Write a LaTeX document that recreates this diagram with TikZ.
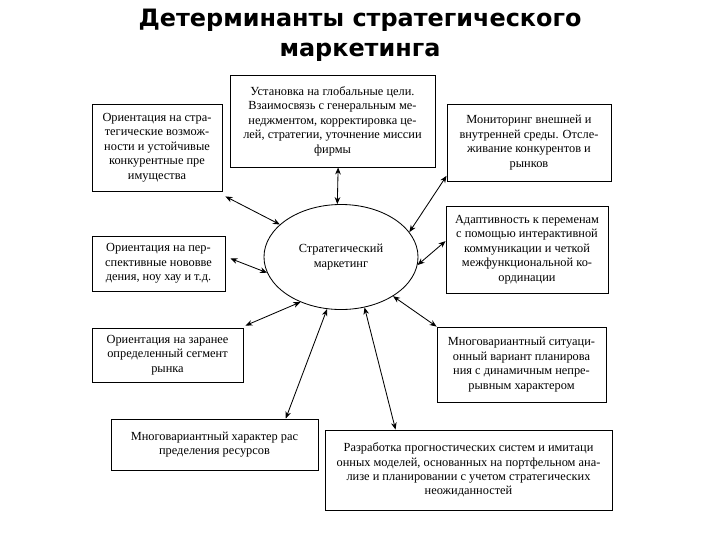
\documentclass[tikz,border=0pt]{standalone}
\usepackage{fontspec}
\setmainfont{Liberation Serif}
\newfontfamily\titlefont{DejaVu Sans}
\usetikzlibrary{arrows.meta,shapes.geometric}

\begin{document}
\begin{tikzpicture}[
  x=0.025cm, y=-0.025cm,
  box/.style={rectangle, draw, line width=0.6pt, align=center, inner sep=2pt,
    font=\fontsize{8.8}{10.3}\selectfont},
  core/.style={ellipse, draw, line width=0.6pt, align=center, inner sep=0pt,
    minimum width=3.85cm, minimum height=2.625cm, font=\fontsize{8.8}{10.3}\selectfont},
  arrow/.style={{Stealth[length=5pt,width=4pt]}-{Stealth[length=5pt,width=4pt]}, line width=0.6pt}
]
\useasboundingbox (0,0) rectangle (720,540);

\node[font=\titlefont\bfseries\fontsize{17}{21.3}\selectfont, align=center] (title) at (360,35)
  {Детерминанты стратегического\\ маркетинга};

\node[core] (mkt) at (341,257) {Стратегический\\ маркетинг};

\node[box, minimum width=5.125cm, minimum height=2.3cm] (goals) at (332.5,121)
  {Установка на глобальные цели.\\ Взаимосвязь с генеральным ме-\\ неджментом, корректировка це-\\ лей, стратегии, уточнение миссии\\ фирмы};
\node[box, minimum width=3.25cm, minimum height=2.175cm] (chance) at (157,147.5)
  {Ориентация на стра-\\ тегические возмож-\\ ности и устойчивые\\ конкурентные пре\\ имущества};
\node[box, minimum width=4.1cm, minimum height=1.925cm] (monitor) at (529,142.5)
  {Мониторинг внешней и\\ внутренней среды. Отсле-\\ живание конкурентов и\\ рынков};
\node[box, minimum width=4.05cm, minimum height=2.175cm] (adapt) at (527,249.5)
  {Адаптивность к переменам\\ с помощью интерактивной\\ коммуникации и четкой\\ межфункциональной ко-\\ ординации};
\node[box, minimum width=3.325cm, minimum height=1.375cm] (innov) at (158.5,263.5)
  {Ориентация на пер-\\ спективные нововве\\ дения, ноу хау и т.д.};
\node[box, minimum width=3.775cm, minimum height=1.35cm] (segment) at (167.5,355)
  {Ориентация на заранее\\ определенный сегмент\\ рынка};
\node[box, minimum width=4.225cm, minimum height=1.875cm] (plan) at (521.5,364.5)
  {Многовариантный ситуаци-\\ онный вариант планирова\\ ния с динамичным непре-\\ рывным характером};
\node[box, minimum width=5.175cm, minimum height=1.275cm] (alloc) at (214.5,444.5)
  {Многовариантный характер рас\\ пределения ресурсов};
\node[box, minimum width=7.175cm, minimum height=2cm] (forecast) at (468.5,470)
  {Разработка прогностических систем и имитаци\\ онных моделей, основанных на портфельном ана-\\ лизе и планировании с учетом стратегических\\ неожиданностей};

\draw[arrow] ([xshift=4]goals.south) -- (mkt.94);
\draw[arrow] ([shift={(3,5)}]chance.south east) -- (mkt.152);
\draw[arrow] ([shift={(5,-5)}]innov.east) -- (mkt.192);
\draw[arrow] ([shift={(2,-2)}]segment.north east) -- (mkt.228);
\draw[arrow] (alloc.20) -- (mkt.255);
\draw[arrow] (forecast.151) -- (mkt.295);
\draw[arrow] (plan.north west) -- (mkt.323);
\draw[arrow] ([yshift=6]adapt.west) -- (mkt.354);
\draw[arrow] ([yshift=4]monitor.south west) -- (mkt.20);
\end{tikzpicture}
\end{document}
